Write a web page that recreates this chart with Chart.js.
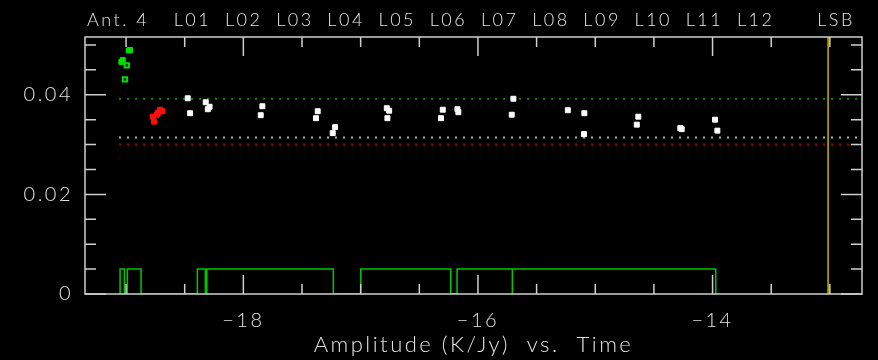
<!DOCTYPE html>
<html lang="en">
<head>
<meta charset="UTF-8">
<title>Amplitude (K/Jy) vs. Time</title>
<script src="https://cdn.jsdelivr.net/npm/chart.js"></script>
<style>
    body { margin: 0; background: #000; }
    canvas { display: block; }
</style>
</head>
<body>
<canvas id="ampChart" width="878" height="360"></canvas>

<script>
    // axis range and ticks
    const xMin = -19.35, xMax = -12.726;
    const yMin = 0, yMax = 0.0516;
    const xTickValues = [-18, -16, -14];
    const xTickLabels = ['\u221218', '\u221216', '\u221214'];
    const yTickValues = [0, 0.02, 0.04];
    const yTickLabels = ['0', '0.02', '0.04'];
    const xTitle = 'Amplitude (K/Jy)  vs.  Time';
    const headerLabels = ['Ant. 4', 'L01', 'L02', 'L03', 'L04', 'L05', 'L06', 'L07', 'L08', 'L09', 'L10', 'L11', 'L12', 'LSB'];

    // white points
    const whiteX = [-18.474, -18.454, -18.321, -18.303, -18.288, -17.838, -17.852, -17.366, -17.381, -17.218, -17.238,
                    -16.777, -16.772, -16.757, -16.300, -16.315, -16.167, -16.175, -15.698, -15.712, -15.234, -15.093,
                    -15.096, -14.633, -14.646, -14.263, -14.275, -13.979, -13.959];
    const whiteY = [0.0393, 0.0363, 0.0385, 0.0371, 0.0376, 0.0377, 0.0359, 0.0367, 0.0353, 0.0335, 0.0323,
                    0.0373, 0.0353, 0.0368, 0.0370, 0.0353, 0.0365, 0.0371, 0.0392, 0.0360, 0.0369, 0.0363,
                    0.0321, 0.0356, 0.0340, 0.0331, 0.0333, 0.0350, 0.0328];

    // red points
    const redX = [-18.710, -18.690, -18.738, -18.772, -18.761, -18.727];
    const redY = [0.0370, 0.0367, 0.0360, 0.0356, 0.0346, 0.0364];

    // green points (filled and open)
    const greenX = [-18.966, -18.975, -19.028, -19.040];
    const greenY = [0.0490, 0.0489, 0.0470, 0.0466];
    const greenOpenX = [-18.994, -19.009];
    const greenOpenY = [0.0459, 0.0431];

    // horizontal reference levels
    const refStart = -19.06;
    const greenLevel = 0.0392, whiteLevel = 0.0314, redLevel = 0.0300;

    // flag segments along the bottom
    const flagStart = [-19.051, -18.989, -18.392, -18.312, -16.999, -16.178, -15.707];
    const flagEnd   = [-19.014, -18.872, -18.324, -17.233, -16.232, -15.707, -13.973];
    const flagHeight = 0.005;

    // yellow marker
    const markerX = -13.015;

    const txt = '#e4e4e4';
    const fontFam = "Lato, 'DejaVu Sans', sans-serif";
    const spacing = '2.5px';

    function pts(xs, ys) {
        return xs.map((x, i) => ({ x: x, y: ys[i] }));
    }

    const flagPts = [];
    flagStart.forEach((s, i) => {
        flagPts.push({ x: s, y: 0 }, { x: s, y: flagHeight }, { x: flagEnd[i], y: flagHeight }, { x: flagEnd[i], y: 0 });
    });

    const framePlugin = {
        id: 'frame',
        beforeDraw(chart) {
            chart.ctx.letterSpacing = spacing;
        },
        afterDatasetsDraw(chart) {
            const { ctx, chartArea: a, scales } = chart;
            const xs = scales.x, ys = scales.y;
            ctx.save();
            ctx.strokeStyle = '#cfcfcf';
            ctx.lineWidth = 1.5;
            ctx.strokeRect(a.left, a.top, a.right - a.left, a.bottom - a.top);
            ctx.beginPath();
            for (let v = -19; v <= -13; v += 0.5) {
                const px = xs.getPixelForValue(v);
                const len = (v % 2 === 0) ? 19 : 10;
                ctx.moveTo(px, a.bottom); ctx.lineTo(px, a.bottom - len);
                ctx.moveTo(px, a.top); ctx.lineTo(px, a.top + len);
            }
            for (let k = 0; k <= 10; k++) {
                const v = k * 0.005;
                const py = ys.getPixelForValue(v);
                const len = (k % 4 === 0) ? 21 : 11;
                ctx.moveTo(a.left, py); ctx.lineTo(a.left + len, py);
                ctx.moveTo(a.right, py); ctx.lineTo(a.right - len, py);
            }
            ctx.stroke();

            // header labels
            ctx.fillStyle = txt;
            ctx.font = '300 18px ' + fontFam;
            ctx.letterSpacing = spacing;
            ctx.textBaseline = 'alphabetic';
            ctx.textAlign = 'left';
            ctx.fillText(headerLabels[0], a.left + 2, 26);
            ctx.textAlign = 'center';
            for (let i = 1; i <= 12; i++) {
                ctx.fillText(headerLabels[i], 192.5 + (i - 1) * 51.2, 26);
            }
            ctx.fillText(headerLabels[13], 836, 26);
            ctx.restore();
        }
    };

    const ctx = document.getElementById('ampChart').getContext('2d');
    new Chart(ctx, {
        type: 'scatter',
        data: {
            datasets: [
                {
                    data: pts(whiteX, whiteY),
                    backgroundColor: '#ffffff', borderColor: '#ffffff',
                    pointStyle: 'rect', pointRadius: 3.5, borderWidth: 1
                },
                {
                    data: pts(redX, redY),
                    backgroundColor: '#ff1010', borderColor: '#ff1010',
                    pointStyle: 'rect', pointRadius: 3.5, borderWidth: 1
                },
                {
                    data: pts(greenX, greenY),
                    backgroundColor: '#00e000', borderColor: '#00e000',
                    pointStyle: 'rect', pointRadius: 3.5, borderWidth: 1
                },
                {
                    data: pts(greenOpenX, greenOpenY),
                    backgroundColor: '#000000', borderColor: '#00e000',
                    pointStyle: 'rect', pointRadius: 3, borderWidth: 2
                },
                {
                    data: [{ x: refStart, y: greenLevel }, { x: xMax, y: greenLevel }],
                    showLine: true, borderColor: '#009600', borderWidth: 2,
                    borderDash: [2, 6], pointRadius: 0
                },
                {
                    data: [{ x: refStart, y: whiteLevel }, { x: xMax, y: whiteLevel }],
                    showLine: true, borderColor: '#b4b4b4', borderWidth: 2,
                    borderDash: [2, 6], pointRadius: 0
                },
                {
                    data: [{ x: refStart, y: redLevel }, { x: xMax, y: redLevel }],
                    showLine: true, borderColor: '#a00000', borderWidth: 2,
                    borderDash: [2, 6], pointRadius: 0
                },
                {
                    data: [{ x: markerX, y: yMin }, { x: markerX, y: yMax }],
                    showLine: true, borderColor: '#c8b400', borderWidth: 1.5, pointRadius: 0
                },
                {
                    data: flagPts,
                    showLine: true, borderColor: '#00c800', borderWidth: 1.5, pointRadius: 0
                }
            ]
        },
        options: {
            responsive: false,
            animation: false,
            layout: { padding: { top: 37, right: 16, left: 0, bottom: 0 } },
            plugins: {
                legend: { display: false },
                tooltip: { enabled: false }
            },
            scales: {
                x: {
                    type: 'linear',
                    min: xMin, max: xMax,
                    grid: { display: false, drawTicks: false },
                    border: { display: false },
                    afterBuildTicks: s => { s.ticks = xTickValues.map(v => ({ value: v })); },
                    afterFit: s => { s.height = 66; },
                    ticks: {
                        color: txt, font: { family: fontFam, size: 20, weight: 300 },
                        padding: 15, maxRotation: 0, autoSkip: false,
                        callback: (v, i) => xTickLabels[i]
                    },
                    title: {
                        display: true, text: xTitle, color: txt,
                        font: { family: fontFam, size: 22, weight: 300 },
                        padding: { top: 0, bottom: 2 }
                    }
                },
                y: {
                    min: yMin, max: yMax,
                    grid: { display: false, drawTicks: false },
                    border: { display: false },
                    afterBuildTicks: s => { s.ticks = yTickValues.map(v => ({ value: v })); },
                    afterFit: s => { s.width = 85; },
                    ticks: {
                        color: txt, font: { family: fontFam, size: 20, weight: 300 },
                        padding: 12,
                        callback: (v, i) => yTickLabels[i]
                    }
                }
            }
        },
        plugins: [framePlugin]
    });
</script>
</body>
</html>
